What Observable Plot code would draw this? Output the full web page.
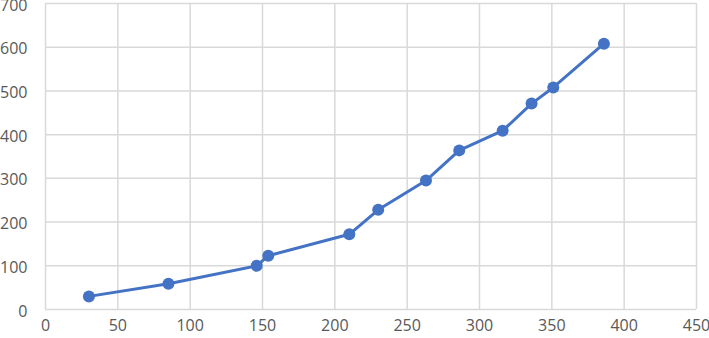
<!DOCTYPE html>
<html>
<head>
<meta charset="utf-8">
<script src="https://cdn.jsdelivr.net/npm/d3@7"></script>
<script src="https://cdn.jsdelivr.net/npm/@observablehq/plot@0.6"></script>
<style>
  html, body { margin: 0; padding: 0; background: #fff; }
</style>
</head>
<body>
<div id="chart"></div>
<script>
const xValues = [30, 85, 146, 154, 210, 230, 263, 286, 316, 336, 351, 386];
const yValues = [30, 59, 100, 123, 172, 228, 295, 364, 409, 471, 508, 608];
const xTicks = [0, 50, 100, 150, 200, 250, 300, 350, 400, 450];
const yTicks = [0, 100, 200, 300, 400, 500, 600, 700];

const data = xValues.map((x, i) => ({x, y: yValues[i]}));
const blue = "#4472C4";
const grid = "#d9d9d9";

const chart = Plot.plot({
  width: 709,
  height: 338,
  marginLeft: 45,
  marginRight: 13,
  marginTop: 3,
  marginBottom: 29,
  style: {fontFamily: "'Open Sans', sans-serif", fontSize: "16px", color: "#595959", background: "#fff", overflow: "visible"},
  x: {domain: [0, 450], ticks: xTicks},
  y: {domain: [0, 700], ticks: yTicks},
  marks: [
    Plot.gridX(xTicks, {stroke: grid, strokeOpacity: 1, strokeWidth: 1.5}),
    Plot.gridY(yTicks, {stroke: grid, strokeOpacity: 1, strokeWidth: 1.5}),
    Plot.axisX(xTicks, {tickSize: 0, tickPadding: 10, label: null, fill: "#595959", fontSize: 16}),
    Plot.axisY(yTicks, {tickSize: 0, tickPadding: 18, dy: 2, label: null, fill: "#595959", fontSize: 16}),
    Plot.line(data, {x: "x", y: "y", stroke: blue, strokeWidth: 3}),
    Plot.dot(data, {x: "x", y: "y", fill: blue, r: 6})
  ]
});
document.getElementById("chart").appendChild(chart);
</script>
</body>
</html>
